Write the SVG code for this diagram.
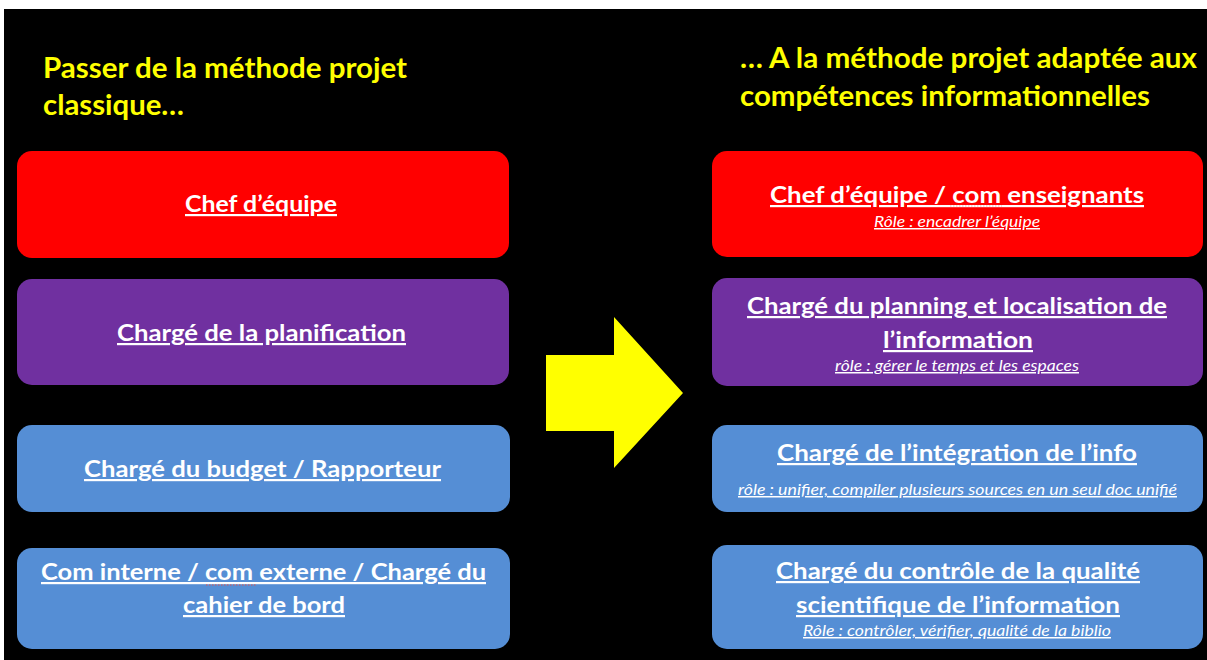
<svg xmlns="http://www.w3.org/2000/svg" width="1207" height="660" viewBox="0 0 1207 660">
  <style>
    .title { font-family: Lato, "Open Sans", "Liberation Sans", sans-serif; font-weight: bold; font-size: 28px; fill: #FFFF00; }
    .main { font-family: Lato, "Open Sans", "Liberation Sans", sans-serif; font-weight: bold; font-size: 22px; fill: #FFFFFF; text-decoration: underline; }
    .sub { font-family: Lato, "Open Sans", "Liberation Sans", sans-serif; font-style: italic; font-size: 15px; fill: #FFFFFF; text-decoration: underline; }
    .red { fill: #FF0000; }
    .purple { fill: #7030A0; }
    .blue { fill: #558ED5; }
    .spell { stroke: #E05050; stroke-width: 1.2; stroke-dasharray: 1.5 1.5; fill: none; }
  </style>
  <rect x="0" y="0" width="1207" height="660" fill="#FFFFFF"/>
  <rect x="4" y="9" width="1203" height="651" fill="#000000"/>

  <g id="title-left">
    <text class="title" x="43" y="78" textLength="364" lengthAdjust="spacingAndGlyphs">Passer de la méthode projet</text>
    <text class="title" x="43" y="115" textLength="141" lengthAdjust="spacingAndGlyphs">classique…</text>
  </g>
  <g id="title-right">
    <text class="title" x="740" y="68" textLength="457" lengthAdjust="spacingAndGlyphs">… A la méthode projet adaptée aux</text>
    <text class="title" x="740" y="106" textLength="410" lengthAdjust="spacingAndGlyphs">compétences informationnelles</text>
  </g>

  <g id="left-chef">
    <rect class="red" x="17" y="151" width="492" height="107" rx="15"/>
    <text class="main" x="185" y="212" textLength="152" lengthAdjust="spacingAndGlyphs">Chef d’équipe</text>
  </g>
  <g id="left-planif">
    <rect class="purple" x="17" y="279" width="492" height="106" rx="15"/>
    <text class="main" x="117" y="341" textLength="289" lengthAdjust="spacingAndGlyphs">Chargé de la planification</text>
  </g>
  <g id="left-budget">
    <rect class="blue" x="17" y="425" width="493" height="87" rx="15"/>
    <text class="main" x="84" y="477" textLength="357" lengthAdjust="spacingAndGlyphs">Chargé du budget / Rapporteur</text>
  </g>
  <g id="left-com">
    <rect class="blue" x="17" y="548" width="493" height="101" rx="15"/>
    <text class="main" x="41" y="580" textLength="445" lengthAdjust="spacingAndGlyphs">Com interne / com externe / Chargé du</text>
    <text class="main" x="183" y="613" textLength="162" lengthAdjust="spacingAndGlyphs">cahier de bord</text>
    <line class="spell" x1="206" y1="585" x2="257" y2="585"/>
  </g>

  <g id="arrow">
    <polygon points="546,355 614,355 614,317 683,393 614,468 614,431 546,431" fill="#FFFF00"/>
  </g>

  <g id="right-chef">
    <rect class="red" x="712" y="151" width="491" height="106" rx="15"/>
    <text class="main" x="770" y="203" textLength="374" lengthAdjust="spacingAndGlyphs">Chef d’équipe / com enseignants</text>
    <line class="spell" x1="950" y1="206" x2="1002" y2="206" style="stroke:#F0B0B0"/>
    <text class="sub" x="874" y="227" textLength="166" lengthAdjust="spacingAndGlyphs">Rôle : encadrer l’équipe</text>
  </g>
  <g id="right-planning">
    <rect class="purple" x="712" y="278" width="491" height="108" rx="15"/>
    <text class="main" x="747" y="314" textLength="420" lengthAdjust="spacingAndGlyphs">Chargé du planning et localisation de</text>
    <text class="main" x="883" y="348" textLength="150" lengthAdjust="spacingAndGlyphs">l’information</text>
    <text class="sub" x="835" y="371" textLength="244" lengthAdjust="spacingAndGlyphs">rôle : gérer le temps et les espaces</text>
  </g>
  <g id="right-integration">
    <rect class="blue" x="712" y="425" width="491" height="87" rx="15"/>
    <text class="main" x="777" y="461" textLength="360" lengthAdjust="spacingAndGlyphs">Chargé de l’intégration de l’info</text>
    <text class="sub" x="738" y="495" textLength="439" lengthAdjust="spacingAndGlyphs"> rôle : unifier, compiler plusieurs sources en un seul doc unifié</text>
  </g>
  <g id="right-qualite">
    <rect class="blue" x="712" y="545" width="491" height="104" rx="15"/>
    <text class="main" x="776" y="579" textLength="364" lengthAdjust="spacingAndGlyphs">Chargé du contrôle de la qualité</text>
    <text class="main" x="796" y="613" textLength="324" lengthAdjust="spacingAndGlyphs">scientifique de l’information</text>
    <text class="sub" x="803" y="636" textLength="308" lengthAdjust="spacingAndGlyphs">Rôle : contrôler, vérifier, qualité de la biblio</text>
  </g>

  <g id="connectors"></g>
</svg>
